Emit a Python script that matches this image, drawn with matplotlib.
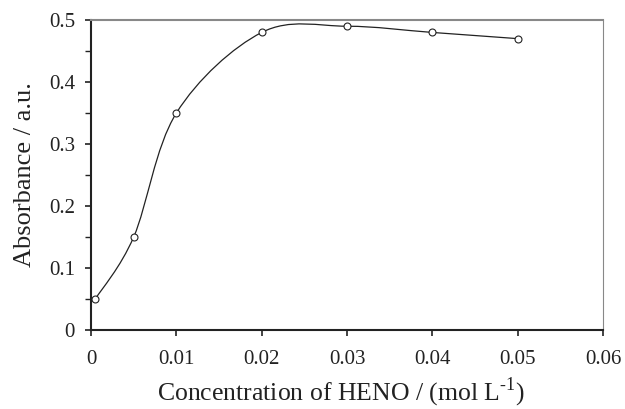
import numpy as np
import matplotlib.pyplot as plt
from matplotlib.path import Path
from matplotlib.patches import PathPatch

# Datos
conc = [0.0005, 0.005, 0.01, 0.02, 0.03, 0.04, 0.05]
absorb = [0.05, 0.15, 0.35, 0.48, 0.49, 0.48, 0.47]

x_ticks = [0, 0.01, 0.02, 0.03, 0.04, 0.05, 0.06]
x_labels = ['0', '0.01', '0.02', '0.03', '0.04', '0.05', '0.06']
y_ticks = [0, 0.1, 0.2, 0.3, 0.4, 0.5]
y_labels = ['0', '0.1', '0.2', '0.3', '0.4', '0.5']

plt.rcParams['font.family'] = ['Liberation Serif', 'DejaVu Serif']
plt.rcParams['mathtext.fontset'] = 'custom'
plt.rcParams['mathtext.rm'] = 'Liberation Serif'

fig = plt.figure(figsize=(6.25, 4.09), dpi=100)
ax = fig.add_axes([0.1456, 0.193, 0.8194, 0.758])

# Línea suavizada (estilo Excel: Bezier con puntos de control Catmull-Rom)
pts = np.column_stack([conc, absorb])
verts = [pts[0]]
codes = [Path.MOVETO]
n = len(pts)
for i in range(n - 1):
    p0 = pts[i - 1] if i > 0 else pts[i]
    p1 = pts[i]
    p2 = pts[i + 1]
    p3 = pts[i + 2] if i + 2 < n else pts[i + 1]
    c1 = p1 + (p2 - p0) / 6
    c2 = p2 - (p3 - p1) / 6
    verts += [c1, c2, p2]
    codes += [Path.CURVE4] * 3
ax.add_patch(PathPatch(Path(verts, codes), facecolor='none', edgecolor='#222222', lw=0.9))

ax.plot(conc, absorb, 'o', mfc='white', mec='#222222', ms=5, mew=0.8, zorder=3)

ax.set_xlim(0, 0.06)
ax.set_ylim(0, 0.5)
ax.set_xticks(x_ticks)
ax.set_xticklabels(x_labels)
ax.set_yticks(y_ticks)
ax.set_yticklabels(y_labels)
ax.set_yticks(np.arange(0.05, 0.5, 0.1), minor=True)

ax.tick_params(axis='both', which='major', direction='out', length=4.5, width=1.2,
               labelsize=15, colors='#222222')
ax.tick_params(axis='x', pad=10)
ax.tick_params(axis='y', pad=7)
ax.tick_params(axis='y', which='minor', direction='out', length=4.5, width=1.0, colors='#222222')

ax.spines['left'].set_color('#222222')
ax.spines['left'].set_linewidth(1.5)
ax.spines['bottom'].set_color('#222222')
ax.spines['bottom'].set_linewidth(1.5)
ax.spines['top'].set_color('#888888')
ax.spines['top'].set_linewidth(1.5)
ax.spines['right'].set_color('#888888')
ax.spines['right'].set_linewidth(0.8)

ax.set_xlabel('Concentration of HENO / (mol L$^{\\text{-1}}$)', fontsize=18.5,
              color='#222222', labelpad=2)
ax.xaxis.set_label_coords(0.489, -0.146)
ax.set_ylabel('Absorbance / a.u.', fontsize=19, color='#222222', labelpad=9)

fig.savefig('out.png', dpi=100)
